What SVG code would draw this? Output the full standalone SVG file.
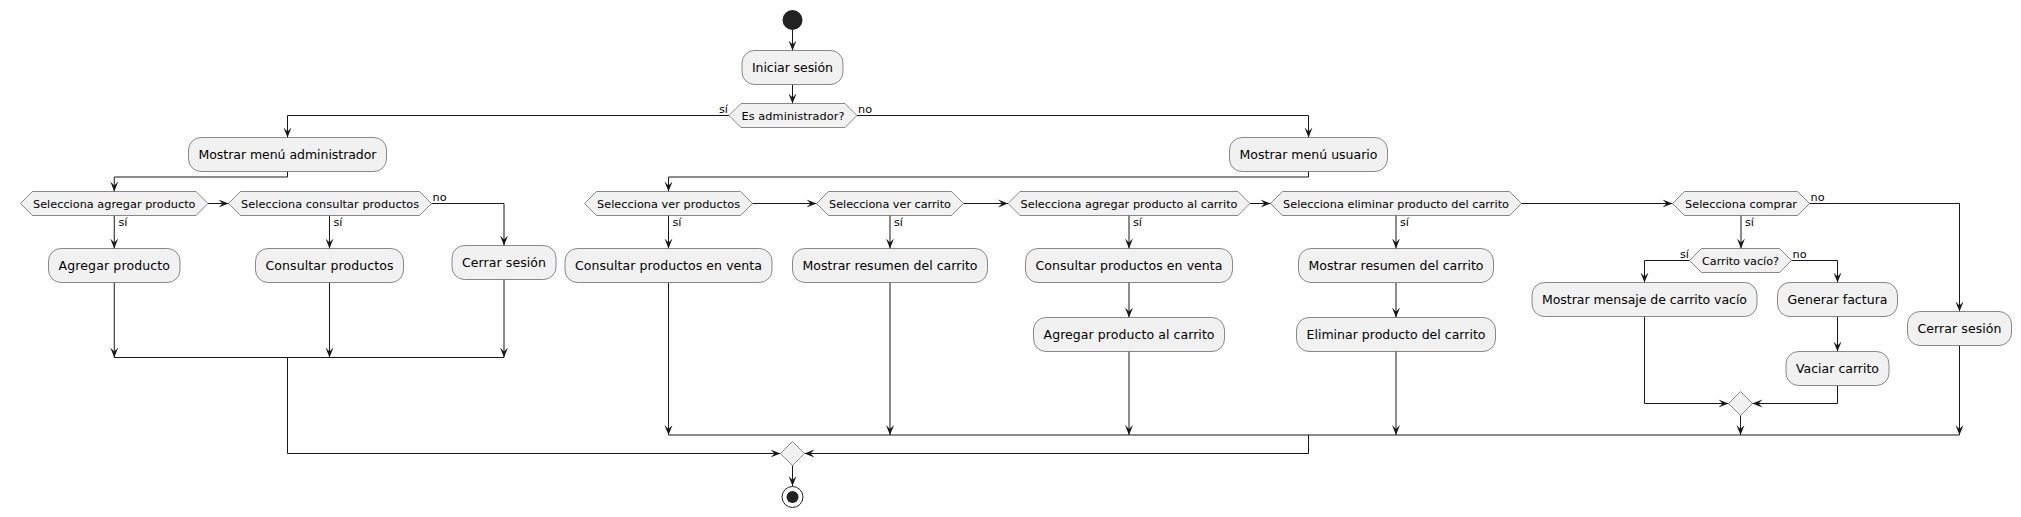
<svg xmlns="http://www.w3.org/2000/svg" width="2021" height="517" viewBox="0 0 2021 517">
<defs>
<marker id="arr" viewBox="0 0 10 10" markerWidth="10" markerHeight="10" refX="10" refY="5" orient="auto" markerUnits="userSpaceOnUse"><path d="M0,1 L10,5 L0,9 L4,5 Z" fill="#181818"/></marker>
<style>
.box{fill:#F1F1F1;stroke:#181818;stroke-width:0.5}
.hex{fill:#F1F1F1;stroke:#181818;stroke-width:0.5}
.t{font-family:"DejaVu Sans",sans-serif;font-size:12.5px;fill:#000;text-anchor:middle}
.td{font-family:"DejaVu Sans",sans-serif;font-size:11.25px;fill:#000;text-anchor:middle}
.lb{font-family:"DejaVu Sans",sans-serif;font-size:11.25px;fill:#000}
.e{text-anchor:end}
.c{fill:none;stroke:#181818;stroke-width:1}
.a{marker-end:url(#arr)}
</style>
</defs>
<rect width="2021" height="517" fill="#FFFFFF"/>
<g id="connectors">
<polyline class="c a" points="792.5,30 792.5,50.5"/>
<polyline class="c a" points="792.5,84.5 792.5,103.5"/>
<polyline class="c a" points="729,115.5 287.5,115.5 287.5,137.5"/>
<polyline class="c a" points="857,115.5 1308.5,115.5 1308.5,137.5"/>
<polyline class="c a" points="287.5,171.5 287.5,177 114.25,177 114.25,191.5"/>
<polyline class="c a" points="208,203.5 228.5,203.5"/>
<polyline class="c a" points="114.25,215.5 114.25,248.5"/>
<polyline class="c a" points="329.5,215.5 329.5,248.5"/>
<polyline class="c a" points="431.5,203.5 504,203.5 504,245.5"/>
<polyline class="c a" points="114.25,282.5 114.25,357.5"/>
<polyline class="c a" points="329.5,282.5 329.5,357.5"/>
<polyline class="c a" points="504,279.5 504,357.5"/>
<polyline class="c" points="114.25,357.5 504,357.5"/>
<polyline class="c a" points="287.5,357.5 287.5,453.5 780.5,453.5"/>
<polyline class="c a" points="1308.5,171.5 1308.5,177 668.5,177 668.5,191.5"/>
<polyline class="c a" points="752.5,203.5 816.5,203.5"/>
<polyline class="c a" points="963.5,203.5 1008,203.5"/>
<polyline class="c a" points="1250,203.5 1270.5,203.5"/>
<polyline class="c a" points="1521.5,203.5 1672.5,203.5"/>
<polyline class="c a" points="668.5,215.5 668.5,248.5"/>
<polyline class="c a" points="890,215.5 890,248.5"/>
<polyline class="c a" points="1129,215.5 1129,248.5"/>
<polyline class="c a" points="1396,215.5 1396,248.5"/>
<polyline class="c a" points="1741,215.5 1741,248.5"/>
<polyline class="c a" points="1809.5,203.5 1959.5,203.5 1959.5,311.5"/>
<polyline class="c a" points="668.5,282.5 668.5,435"/>
<polyline class="c a" points="890,282.5 890,435"/>
<polyline class="c a" points="1129,282.5 1129,317.5"/>
<polyline class="c a" points="1129,351.5 1129,435"/>
<polyline class="c a" points="1396,282.5 1396,317.5"/>
<polyline class="c a" points="1396,351.5 1396,435"/>
<polyline class="c a" points="1689.5,260.5 1644.5,260.5 1644.5,282.5"/>
<polyline class="c a" points="1791.5,260.5 1837.5,260.5 1837.5,282.5"/>
<polyline class="c a" points="1837.5,316.5 1837.5,351.5"/>
<polyline class="c a" points="1644.5,316.5 1644.5,403.5 1728.5,403.5"/>
<polyline class="c a" points="1837.5,385.5 1837.5,403.5 1752.5,403.5"/>
<polyline class="c a" points="1740.5,415.5 1740.5,435"/>
<polyline class="c a" points="1959.5,345.5 1959.5,435"/>
<polyline class="c" points="668.5,435 1959.5,435"/>
<polyline class="c a" points="1308.5,435 1308.5,453.5 804.5,453.5"/>
<polyline class="c a" points="792.5,465.5 792.5,486"/>
<text class="lb e" x="728" y="113">sí</text>
<text class="lb" x="858" y="113">no</text>
<text class="lb" x="118.5" y="226">sí</text>
<text class="lb" x="333.5" y="226">sí</text>
<text class="lb" x="432.5" y="201">no</text>
<text class="lb" x="672.5" y="226">sí</text>
<text class="lb" x="894" y="226">sí</text>
<text class="lb" x="1133" y="226">sí</text>
<text class="lb" x="1400" y="226">sí</text>
<text class="lb" x="1745" y="226">sí</text>
<text class="lb" x="1810.5" y="201">no</text>
<text class="lb e" x="1689" y="257.5">sí</text>
<text class="lb" x="1792.5" y="257.5">no</text>
</g>
<g id="start"><circle cx="792.5" cy="20" r="10" fill="#222222"/></g>
<g id="iniciar_sesion"><rect class="box" x="742" y="50.5" width="101" height="34" rx="12.5"/><text class="t" x="792.5" y="72" textLength="81">Iniciar sesión</text></g>
<g id="es_administrador"><polygon class="hex" points="729,115.5 741,103.5 845,103.5 857,115.5 845,127.5 741,127.5"/><text class="td" x="793" y="119.5" textLength="103">Es administrador?</text></g>
<g id="menu_admin"><rect class="box" x="188.5" y="137.5" width="198" height="34" rx="12.5"/><text class="t" x="287.5" y="159" textLength="178">Mostrar menú administrador</text></g>
<g id="sel_agregar_producto"><polygon class="hex" points="20.5,203.5 32.5,191.5 196,191.5 208,203.5 196,215.5 32.5,215.5"/><text class="td" x="114.25" y="207.5" textLength="162.5">Selecciona agregar producto</text></g>
<g id="sel_consultar_productos"><polygon class="hex" points="228.5,203.5 240.5,191.5 419.5,191.5 431.5,203.5 419.5,215.5 240.5,215.5"/><text class="td" x="330" y="207.5" textLength="178">Selecciona consultar productos</text></g>
<g id="agregar_producto"><rect class="box" x="48.5" y="248.5" width="131.5" height="34" rx="12.5"/><text class="t" x="114.25" y="270" textLength="111.5">Agregar producto</text></g>
<g id="consultar_productos"><rect class="box" x="255.5" y="248.5" width="148" height="34" rx="12.5"/><text class="t" x="329.5" y="270" textLength="128">Consultar productos</text></g>
<g id="cerrar_sesion_admin"><rect class="box" x="452" y="245.5" width="104" height="34" rx="12.5"/><text class="t" x="504" y="267" textLength="84">Cerrar sesión</text></g>
<g id="menu_usuario"><rect class="box" x="1229.5" y="137.5" width="158" height="34" rx="12.5"/><text class="t" x="1308.5" y="159" textLength="138">Mostrar menú usuario</text></g>
<g id="sel_ver_productos"><polygon class="hex" points="584.5,203.5 596.5,191.5 740.5,191.5 752.5,203.5 740.5,215.5 596.5,215.5"/><text class="td" x="668.5" y="207.5" textLength="143">Selecciona ver productos</text></g>
<g id="sel_ver_carrito"><polygon class="hex" points="816.5,203.5 828.5,191.5 951.5,191.5 963.5,203.5 951.5,215.5 828.5,215.5"/><text class="td" x="890" y="207.5" textLength="122">Selecciona ver carrito</text></g>
<g id="sel_agregar_carrito"><polygon class="hex" points="1008,203.5 1020,191.5 1238,191.5 1250,203.5 1238,215.5 1020,215.5"/><text class="td" x="1129" y="207.5" textLength="217">Selecciona agregar producto al carrito</text></g>
<g id="sel_eliminar_carrito"><polygon class="hex" points="1270.5,203.5 1282.5,191.5 1509.5,191.5 1521.5,203.5 1509.5,215.5 1282.5,215.5"/><text class="td" x="1396" y="207.5" textLength="226">Selecciona eliminar producto del carrito</text></g>
<g id="sel_comprar"><polygon class="hex" points="1672.5,203.5 1684.5,191.5 1797.5,191.5 1809.5,203.5 1797.5,215.5 1684.5,215.5"/><text class="td" x="1741" y="207.5" textLength="112">Selecciona comprar</text></g>
<g id="consultar_venta_1"><rect class="box" x="565" y="248.5" width="207" height="34" rx="12.5"/><text class="t" x="668.5" y="270" textLength="187">Consultar productos en venta</text></g>
<g id="resumen_carrito_1"><rect class="box" x="792.5" y="248.5" width="195" height="34" rx="12.5"/><text class="t" x="890" y="270" textLength="175">Mostrar resumen del carrito</text></g>
<g id="consultar_venta_2"><rect class="box" x="1025.5" y="248.5" width="207" height="34" rx="12.5"/><text class="t" x="1129" y="270" textLength="187">Consultar productos en venta</text></g>
<g id="agregar_al_carrito"><rect class="box" x="1033.5" y="317.5" width="191" height="34" rx="12.5"/><text class="t" x="1129" y="339" textLength="171">Agregar producto al carrito</text></g>
<g id="resumen_carrito_2"><rect class="box" x="1298.5" y="248.5" width="195" height="34" rx="12.5"/><text class="t" x="1396" y="270" textLength="175">Mostrar resumen del carrito</text></g>
<g id="eliminar_del_carrito"><rect class="box" x="1296.5" y="317.5" width="199" height="34" rx="12.5"/><text class="t" x="1396" y="339" textLength="179">Eliminar producto del carrito</text></g>
<g id="carrito_vacio"><polygon class="hex" points="1689.5,260.5 1701.5,248.5 1779.5,248.5 1791.5,260.5 1779.5,272.5 1701.5,272.5"/><text class="td" x="1740.5" y="264.5" textLength="77">Carrito vacío?</text></g>
<g id="mensaje_vacio"><rect class="box" x="1532" y="282.5" width="225" height="34" rx="12.5"/><text class="t" x="1644.5" y="304" textLength="205">Mostrar mensaje de carrito vacío</text></g>
<g id="generar_factura"><rect class="box" x="1777.5" y="282.5" width="120" height="34" rx="12.5"/><text class="t" x="1837.5" y="304" textLength="100">Generar factura</text></g>
<g id="vaciar_carrito"><rect class="box" x="1786" y="351.5" width="103" height="34" rx="12.5"/><text class="t" x="1837.5" y="373" textLength="83">Vaciar carrito</text></g>
<g id="merge_compra"><polygon class="hex" points="1740.5,391.5 1752.5,403.5 1740.5,415.5 1728.5,403.5"/></g>
<g id="cerrar_sesion_usuario"><rect class="box" x="1907.5" y="311.5" width="104" height="34" rx="12.5"/><text class="t" x="1959.5" y="333" textLength="84">Cerrar sesión</text></g>
<g id="merge_final"><polygon class="hex" points="792.5,441.5 804.5,453.5 792.5,465.5 780.5,453.5"/></g>
<g id="end"><circle cx="792.5" cy="497" r="10.5" fill="#FFFFFF" stroke="#222222" stroke-width="1"/><circle cx="792.5" cy="497" r="6" fill="#222222"/></g>
</svg>
